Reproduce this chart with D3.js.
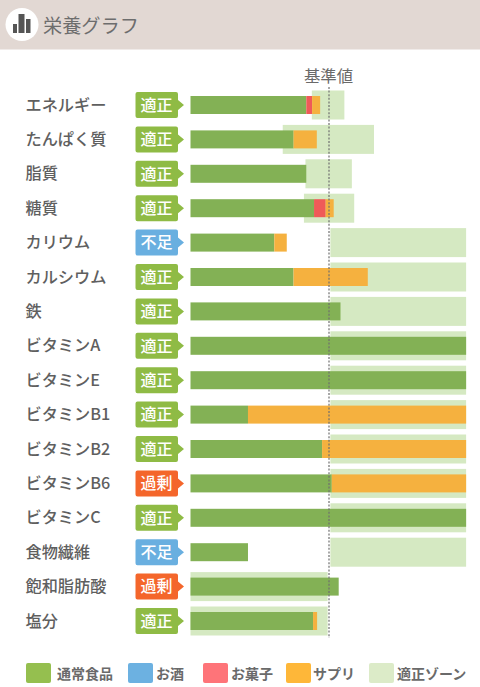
<!DOCTYPE html>
<html><head><meta charset="utf-8">
<script src="https://cdn.jsdelivr.net/npm/d3@7"></script>
<style>html,body{margin:0;padding:0;background:#fff;overflow:hidden}svg{display:block}text{font-family:"Noto Sans CJK JP","Noto Sans",sans-serif}</style>
</head><body><svg id="c" width="480" height="687"></svg>
<script>
const categories=["エネルギー","たんぱく質","脂質","糖質","カリウム","カルシウム","鉄","ビタミンA","ビタミンE","ビタミンB1","ビタミンB2","ビタミンB6","ビタミンC","食物繊維","飽和脂肪酸","塩分"];
const status=["適正","適正","適正","適正","不足","適正","適正","適正","適正","適正","適正","過剰","適正","不足","過剰","適正"];
const food=[83.6,74.4,83.6,89.2,60.5,74.4,108.3,199,199,41.5,95,102,199,41.5,107,88.5];
const alcohol=[0,0,0,0,0,0,0,0,0,0,0,0,0,0,0,0];
const snack=[4.2,0,0,8.4,0,0,0,0,0,0,0,0,0,0,0,0];
const supplement=[5.8,16.8,0,5.8,9,53.6,0,0,0,157.5,104,97,0,0,0,2.9];
const zoneLow=[87.6,66.6,83,81.9,101,101,101,101,101,101,101,101,101,101,0,0];
const zoneHigh=[111.1,132.5,116.5,118.2,199,199,199,199,199,199,199,199,199,199,99,99];
const legendLabels=["通常食品","お酒","お菓子","サプリ","適正ゾーン"];
const legendColors=["#95bf4f","#6cb1e1","#fe7479","#feb739","#dcebc8"];
const barColors={food:"#83b155",alcohol:"#6cb1e1",snack:"#ef5a58",supplement:"#f5b13f"};
const statusColors={"適正":"#8fbb45","不足":"#69afe0","過剰":"#f4662b"};
const title="栄養グラフ", refLabel="基準値";

const svg=d3.select("#c");
const x=d3.scaleLinear().domain([0,100]).range([190.5,329]);
const y=d3.scalePoint().domain(categories).range([105,621]);
const ink="#5f5f5f";

svg.append("rect").attr("width",480).attr("height",49.5).attr("fill","#e2d8d3");
svg.append("circle").attr("cx",22).attr("cy",24.5).attr("r",16.5).attr("fill","#fff");
svg.append("g").attr("fill","#555").selectAll("rect").data([[13,24,4],[18.5,14,6],[26,19,4.5]]).join("rect")
  .attr("x",d=>d[0]).attr("width",d=>d[2]).attr("y",d=>d[1]).attr("height",d=>33-d[1]);
svg.append("text").attr("x",43).attr("y",33).attr("font-size",19.2).attr("fill","#6d6d6d").text(title);

svg.append("text").attr("x",328.5).attr("y",82).attr("text-anchor","middle").attr("font-size",16.4).attr("fill","#6a6a6a").text(refLabel);

// zones
svg.append("g").selectAll("rect").data(categories).join("rect")
  .attr("x",(d,i)=>x(zoneLow[i])).attr("width",(d,i)=>x(zoneHigh[i])-x(zoneLow[i]))
  .attr("y",d=>y(d)-14.5).attr("height",29).attr("fill","#d5e9c2");

// stacked bars
const keys=["food","alcohol","snack","supplement"];
const table=categories.map((c,i)=>({c,food:food[i],alcohol:alcohol[i],snack:snack[i],supplement:supplement[i]}));
const stack=d3.stack().keys(keys)(table);
svg.append("g").selectAll("g").data(stack).join("g").attr("fill",s=>barColors[s.key])
  .selectAll("rect").data(s=>s).join("rect")
  .attr("x",d=>x(d[0])).attr("width",d=>x(d[1])-x(d[0]))
  .attr("y",d=>y(d.data.c)-9).attr("height",18);

// ref line
svg.append("line").attr("x1",x(100)).attr("x2",x(100)).attr("y1",87).attr("y2",638)
  .attr("stroke","#6f6f6f").attr("stroke-width",1.2).attr("stroke-dasharray","2 1.6");

// labels
svg.append("g").selectAll("text").data(categories).join("text")
  .attr("x",25.5).attr("y",d=>y(d)+5.5).attr("font-size",16.2).attr("font-weight",500).attr("fill",ink).text(d=>d);

// tags
const tag=svg.append("g").selectAll("g").data(categories).join("g").attr("transform",d=>`translate(0,${y(d)})`);
tag.append("path").attr("fill",(d,i)=>statusColors[status[i]])
  .attr("d","M137.5,-13 H176 Q178,-13 178,-11 V-5 L184,0 L178,5 V11 Q178,13 176,13 H137.5 Q135.5,13 135.5,11 V-11 Q135.5,-13 137.5,-13 Z");
tag.append("text").attr("x",156.5).attr("y",5.8).attr("text-anchor","middle").attr("font-size",16).attr("font-weight",500).attr("fill","#fff").text((d,i)=>status[i]);

// legend
const legendX=[26,128,203,286,369], legendTextX=[57,156,231,313,397];
const lg=svg.append("g").selectAll("g").data(legendLabels).join("g");
lg.append("rect").attr("x",(d,i)=>legendX[i]).attr("y",663).attr("width",25).attr("height",20).attr("rx",2).attr("fill",(d,i)=>legendColors[i]);
lg.append("text").attr("x",(d,i)=>legendTextX[i]).attr("y",678.5).attr("font-size",14).attr("font-weight",700).attr("fill","#6a6a6a").text(d=>d);
</script></body></html>
